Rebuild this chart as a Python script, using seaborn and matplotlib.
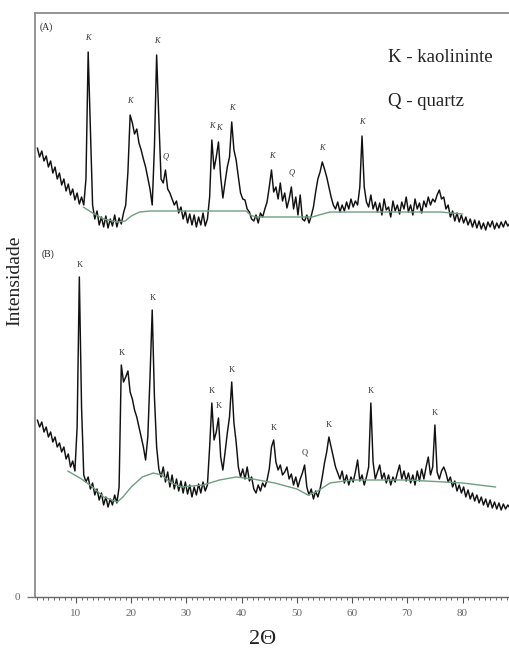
import numpy as np
import pandas as pd
import matplotlib
matplotlib.use('Agg')
import matplotlib.pyplot as plt
import seaborn as sns

# scan grid (2theta, degrees)
scan_start = 3.0
scan_step = 0.4

# pattern (A) intensities, 10 steps per row (4 deg)
intensity_a = [
    449, 440, 446, 436, 441, 430, 436, 424, 430, 418,
    424, 412, 418, 406, 413, 402, 408, 397, 404, 393,
    400, 392, 418, 545, 470, 392, 378, 386, 372, 380,
    370, 381, 369, 378, 371, 382, 370, 379, 373, 384,
    392, 425, 482, 474, 463, 468, 454, 447, 438, 430,
    419, 408, 392, 450, 542, 478, 418, 414, 427, 408,
    404, 398, 392, 396, 384, 390, 378, 386, 374, 383,
    372, 382, 370, 380, 372, 384, 371, 378, 400, 457,
    428, 440, 455, 420, 399, 415, 430, 440, 475, 447,
    437, 420, 404, 398, 397, 388, 385, 378, 376, 382,
    374, 384, 380, 388, 395, 410, 427, 405, 410, 398,
    414, 396, 404, 389, 398, 410, 388, 400, 382, 402,
    378, 376, 382, 374, 381, 390, 405, 418, 425, 435,
    428, 420, 410, 400, 392, 388, 395, 385, 392, 386,
    395, 388, 398, 390, 396, 392, 410, 461, 410, 395,
    390, 402, 388, 395, 385, 394, 382, 398, 387, 390,
    380, 396, 386, 392, 383, 395, 388, 400, 385, 392,
    382, 398, 388, 394, 384, 396, 390, 400, 392, 398,
    395, 402, 407, 398, 400, 388, 392, 380, 386, 376,
    384, 375, 382, 374, 380, 372, 378, 370, 377, 369,
    376, 368, 374, 367, 375, 370, 376, 368, 374, 369,
    375, 370, 376, 371, 374,
]

# pattern (B) intensities
intensity_b = [
    177, 170, 175, 165, 170, 160, 165, 155, 160, 150,
    154, 145, 150, 138, 143, 130, 136, 126, 170, 320,
    190, 122, 115, 120, 108, 114, 102, 108, 97, 104,
    92, 100, 90, 98, 92, 102, 94, 110, 232, 215,
    220, 226, 205, 198, 187, 180, 170, 160, 150, 137,
    160, 220, 287, 200, 150, 128, 120, 130, 115, 125,
    110, 122, 108, 118, 106, 116, 104, 115, 103, 112,
    100, 110, 102, 113, 104, 115, 106, 112, 150, 194,
    157, 165, 179, 140, 127, 145, 164, 180, 215, 174,
    155, 130, 120, 128, 118, 130, 116, 120, 108, 104,
    112, 106, 114, 110, 117, 128, 150, 157, 135, 127,
    132, 122, 125, 130, 118, 123, 112, 120, 110, 118,
    124, 132, 110, 102, 108, 98, 106, 100, 108, 120,
    134, 145, 160, 150, 140, 130, 124, 118, 126, 114,
    122, 112, 120, 115, 125, 137, 116, 122, 112, 120,
    130, 194, 135, 118, 125, 132, 118, 124, 114, 122,
    112, 120, 115, 124, 132, 118, 126, 116, 124, 114,
    122, 112, 126, 116, 128, 118, 130, 140, 122, 130,
    172, 125, 118, 126, 130, 124, 115, 120, 110, 116,
    106, 112, 104, 110, 100, 107, 98, 104, 96, 102,
    94, 100, 92, 98, 90, 97, 89, 95, 88, 94,
    87, 93, 88, 92, 89,
]

# fitted backgrounds (green)
baseline_a_theta = [11.3, 13.0, 15.0, 17.5, 18.9, 20.0, 21.5, 23.5, 40.8, 41.6,
                    42.5, 52.8, 54.0, 56.0, 76.0, 80.0]
baseline_a = [390, 384, 378, 375, 376, 381, 385, 386, 386, 382,
              380, 380, 382, 385, 385, 383]
baseline_b_theta = [8.5, 11.0, 13.0, 15.0, 17.5, 18.5, 20.0, 22.0, 24.0, 25.5,
                    27.0, 29.0, 33.0, 36.0, 39.0, 42.0, 46.0, 50.0, 52.0, 53.5,
                    56.0, 60.0, 70.0, 80.0, 86.0]
baseline_b = [126, 118, 110, 100, 95, 100, 110, 120, 124, 122,
              115, 110, 112, 117, 120, 118, 114, 108, 102, 105,
              114, 117, 117, 114, 110]

# peak assignments
peaks_a = [12.2, 19.8, 24.6, 26.2, 34.6, 35.8, 38.2, 45.4, 49.0, 54.6, 61.8]
peak_labels_a = ['K', 'K', 'K', 'Q', 'K', 'K', 'K', 'K', 'Q', 'K', 'K']
peaks_b = [10.6, 18.2, 23.8, 34.6, 35.8, 38.2, 45.8, 51.4, 55.8, 63.4, 75.0]
peak_labels_b = ['K', 'K', 'K', 'K', 'K', 'K', 'K', 'Q', 'K', 'K', 'K']

legend_lines = ['K - kaolininte', 'Q - quartz']

two_theta = scan_start + scan_step * np.arange(len(intensity_a))
df = pd.DataFrame({'two_theta': two_theta, 'A': intensity_a, 'B': intensity_b})

sns.set_theme(style='white')
plt.rcParams['font.family'] = ['Liberation Serif', 'DejaVu Serif']

fig = plt.figure(figsize=(5.1, 6.48), dpi=100)
ax = fig.add_axes([35 / 510, 51 / 648, 475 / 510, 584 / 648])

sns.lineplot(data=df, x='two_theta', y='A', color='#111111', lw=1.05,
             estimator=None, sort=False, ax=ax)
sns.lineplot(data=df, x='two_theta', y='B', color='#111111', lw=1.05,
             estimator=None, sort=False, ax=ax)
sns.lineplot(x=baseline_a_theta, y=baseline_a, color='#6f9e80', lw=1.0,
             estimator=None, sort=False, ax=ax)
sns.lineplot(x=baseline_b_theta, y=baseline_b, color='#6f9e80', lw=1.0,
             estimator=None, sort=False, ax=ax)

# peak letters just above the local maximum
for pos, lab in zip(peaks_a, peak_labels_a):
    near = df[(df.two_theta > pos - 0.5) & (df.two_theta < pos + 0.5)]
    ax.text(pos, near['A'].max() + 10, lab, ha='center', va='bottom',
            fontsize=6, style='italic', color='#333333')
for pos, lab in zip(peaks_b, peak_labels_b):
    near = df[(df.two_theta > pos - 0.5) & (df.two_theta < pos + 0.5)]
    ax.text(pos, near['B'].max() + 8, lab, ha='center', va='bottom',
            fontsize=6, color='#333333')

ax.set_xlim(2.57, 88.6)
ax.set_ylim(0, 584)
ax.set_xticks(range(10, 90, 10))
ax.set_xticks(range(3, 89), minor=True)
ax.set_yticks([0])
ax.tick_params(axis='x', which='both', bottom=True)
ax.tick_params(axis='y', which='both', left=True)
ax.tick_params(axis='x', which='major', direction='out', length=4, width=0.8,
               color='#555555', labelsize=8, labelcolor='#666666', pad=5)
ax.tick_params(axis='x', which='minor', direction='out', length=2, width=0.6,
               color='#555555')
ax.tick_params(axis='y', direction='out', length=6, width=1.0, color='#777777',
               labelsize=8, labelcolor='#666666', pad=5)
ax.spines['right'].set_visible(False)
for side in ['left', 'top']:
    ax.spines[side].set_color('#8c8c8c')
    ax.spines[side].set_linewidth(1.3)
ax.spines['bottom'].set_color('#666666')
ax.spines['bottom'].set_linewidth(1.0)
ax.set_xlabel('')
ax.set_ylabel('')

ax.text(0.01, 0.975, '(A)', transform=ax.transAxes, fontsize=7, va='center')
ax.text(0.015, 0.587, '(B)', transform=ax.transAxes, fontsize=7, va='center')

fig.text(388 / 510, 1 - 57 / 648, legend_lines[0], fontsize=13.5,
         color='#222222', va='center')
fig.text(388 / 510, 1 - 101 / 648, legend_lines[1], fontsize=13.5,
         color='#222222', va='center')

fig.text(15 / 510, 1 - 281 / 648, 'Intensidade', rotation=90, fontsize=14,
         ha='center', va='center', color='#222222')
fig.text(263 / 510, 1 - 639 / 648, '2Θ', fontsize=16, ha='center',
         va='center', color='#222222')

fig.savefig('out.png', dpi=100)
